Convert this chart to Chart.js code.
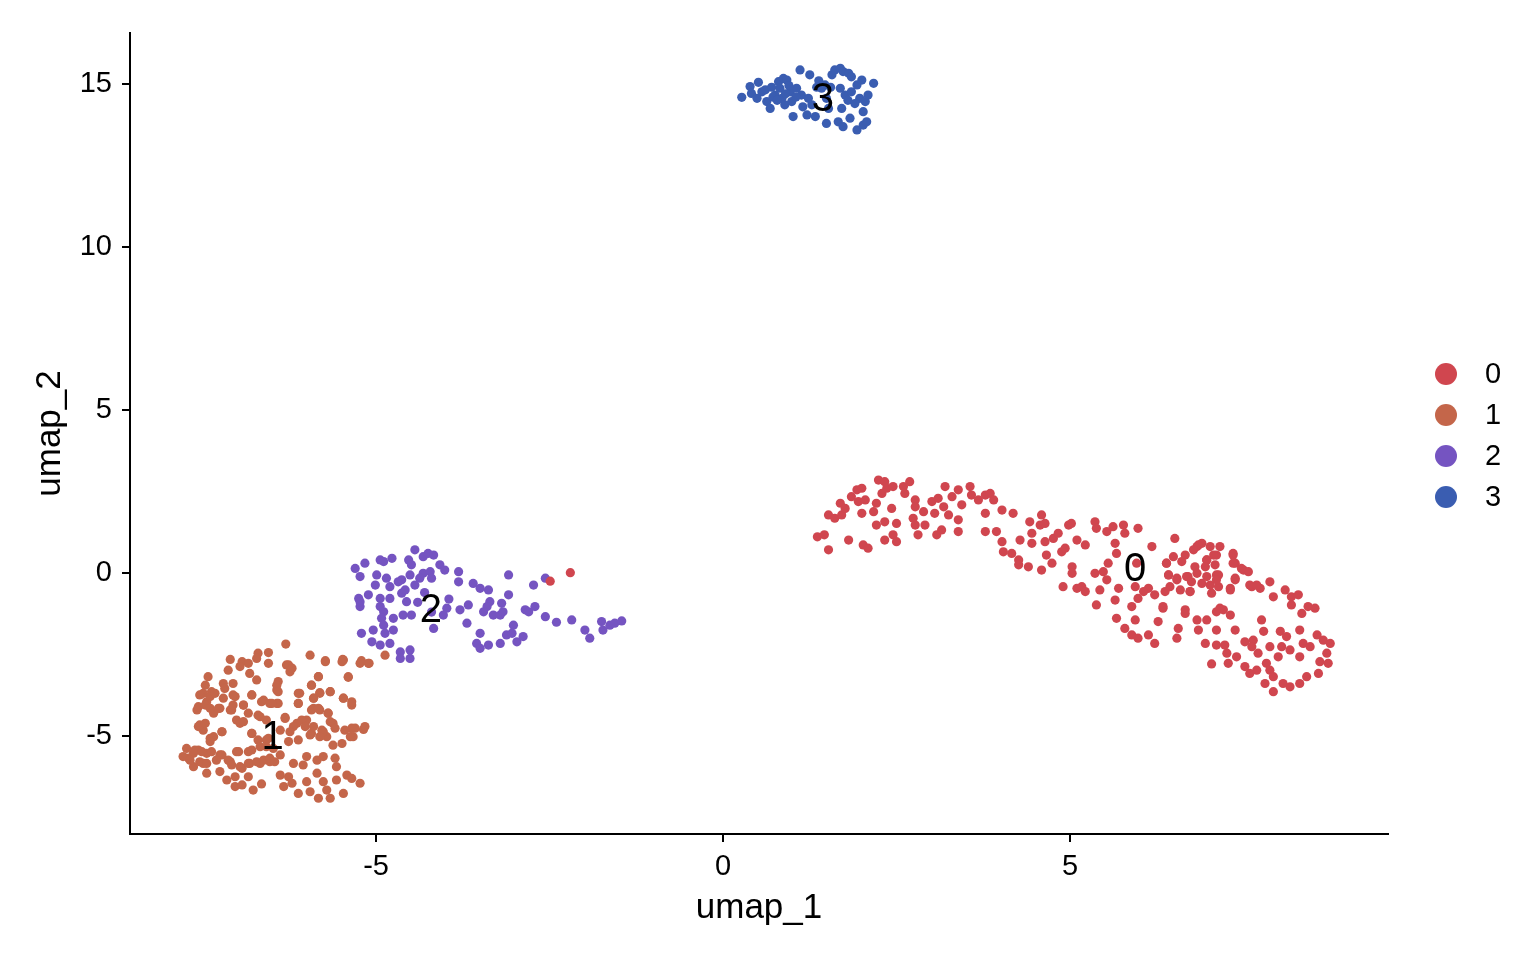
<!DOCTYPE html>
<html>
<head>
<meta charset="utf-8">
<title>umap clusters</title>
<script src="https://cdn.jsdelivr.net/npm/chart.js@4.4.1/dist/chart.umd.min.js"></script>
<style>
    html, body { margin: 0; padding: 0; background: #ffffff; }
    #umap { display: block; }
</style>
</head>
<body>
<canvas id="umap" width="1536" height="960"></canvas>
<script>
// cluster ids and colours
const clusterNames = ["0", "1", "2", "3"];
const clusterColors = ["#D0464F", "#C4664A", "#7554C1", "#3A5DB1"];

// tick values
const xTicks = [-5, 0, 5];
const yTicks = [-5, 0, 5, 10, 15];

// cluster label positions (umap_1, umap_2)
const labelX = [5.94, -6.49, -4.21, 1.44];
const labelY = [0.10, -5.06, -1.16, 14.52];

// [umap_1, umap_2] per cell
const cluster0 = [
    [1.36,1.11],[1.46,1.17],[1.52,0.71],[1.52,1.78],[1.61,1.68],[1.69,2.14],[1.71,1.78],[1.76,1.98],[1.81,1.01],[1.85,2.34],
    [1.93,2.55],[2.00,2.60],[1.95,2.19],[2.05,2.24],[2.00,1.83],[2.02,0.86],[2.09,0.76],[2.17,1.88],[2.21,2.14],[2.21,1.47],
    [2.24,2.85],[2.33,2.80],[2.29,2.44],[2.36,2.60],[2.45,2.65],[2.33,1.57],[2.33,1.01],[2.43,1.98],[2.45,1.17],[2.50,1.52],
    [2.50,0.96],[2.60,2.65],[2.62,2.44],[2.69,2.80],[2.77,2.24],[2.77,2.03],[2.74,1.68],[2.77,1.47],[2.81,1.17],[2.89,1.88],
    [2.91,1.47],[3.01,2.19],[3.05,1.83],[3.08,1.17],[3.15,1.32],[3.10,2.29],[3.20,2.65],[3.18,2.03],[3.25,1.78],[3.30,2.34],
    [3.39,2.55],[3.44,2.09],[3.39,1.63],[3.39,1.27],[3.56,2.65],[3.58,2.39],[3.68,2.24],[3.78,2.39],[3.85,2.44],[3.90,2.24],
    [3.78,1.83],[3.78,1.27],[3.94,1.27],[4.02,1.93],[4.02,0.96],[4.04,0.65],[4.18,1.83],[4.16,0.60],[4.26,0.40],[4.28,1.01],
    [4.26,0.25],[4.40,0.19],[4.42,1.57],[4.45,1.22],[4.45,0.91],[4.57,1.47],[4.59,1.78],[4.64,1.52],[4.59,0.09],[4.64,0.96],
    [4.66,0.55],[4.74,0.30],[4.76,1.06],[4.83,1.22],[4.88,0.65],[4.93,0.76],[4.98,1.47],[4.90,-0.42],[5.03,0.19],[5.03,-0.01],
    [5.10,1.01],[5.10,-0.47],[5.17,-0.42],
    [5.02,1.52],[5.22,0.86],[5.36,1.57],[5.38,1.37],[5.53,1.27],[5.62,1.42],[5.77,1.47],[5.79,1.22],[5.98,1.37],[5.65,0.91],
    [5.67,0.60],[5.36,-0.01],[5.48,0.04],[5.53,-0.21],[5.55,0.30],[5.96,0.30],[6.18,0.81],[5.22,-0.57],[5.43,-0.52],[5.70,-0.47],
    [5.94,-0.42],[6.13,-0.47],[6.22,-0.67],[6.06,-0.57],[5.38,-0.98],[5.65,-0.83],[5.89,-1.03],[5.98,-0.78],[6.34,-1.08],[5.67,-1.39],
    [5.94,-1.44],[6.27,-1.49],[5.79,-1.70],[5.89,-1.90],[5.98,-2.00],[6.13,-1.90],[6.22,-2.16],[6.51,1.06],[6.49,0.50],[6.66,0.55],
    [6.39,0.30],[6.42,-0.06],[6.54,-0.21],[6.44,-0.42],[6.59,-0.52],[6.70,-0.11],[6.83,0.81],[6.90,0.91],[7.02,0.81],[7.16,0.81],
    [6.80,0.19],[6.83,-0.01],[6.97,0.40],[7.11,0.55],[7.09,0.25],[6.97,-0.11],[7.11,-0.06],[7.14,-0.42],[7.04,-0.62],[6.73,-0.57],
    [7.35,0.60],[7.38,0.30],[7.50,0.09],[7.57,0.04],[7.38,-0.21],[7.31,-0.47],[7.62,-0.42],[7.74,-0.47],[7.88,-0.27],[7.93,-0.73],
    [8.10,-0.52],[8.19,-0.73],[8.29,-0.67],[8.19,-0.98],[8.34,-1.24],[8.43,-1.03],[8.53,-1.08],[6.66,-1.24],[6.83,-1.44],[6.97,-1.44],
    [7.11,-1.19],[7.21,-1.13],[7.31,-1.29],[6.85,-1.75],[7.11,-1.75],[7.11,-2.21],[6.95,-2.16],[6.56,-1.70],[6.54,-2.00],[7.23,-2.21],
    [7.38,-1.75],[7.52,-2.11],[7.64,-2.06],[7.76,-1.44],[7.79,-1.79],[7.26,-2.46],[7.40,-2.57],[7.28,-2.77],[7.04,-2.79],[7.62,-2.26],
    [7.71,-2.46],[7.88,-2.26],[8.00,-2.57],[7.83,-2.77],[8.03,-1.79],[8.12,-1.95],[8.05,-2.26],[8.17,-2.36],[8.31,-1.75],[8.36,-2.16],
    [8.46,-2.26],[8.56,-1.90],[8.65,-2.06],[8.75,-2.16],[8.70,-2.46],[8.60,-2.72],[8.58,-3.08],[8.31,-2.57],[8.41,-3.18],[8.31,-3.39],
    [8.17,-3.49],[8.07,-3.39],[7.93,-3.64],[7.81,-3.39],[7.69,-2.98],[7.59,-3.08],[7.52,-2.87],[7.88,-2.98],[7.93,-3.18],[8.72,-2.77],
    [6.85,0.86],[7.07,0.55],[6.97,0.40],[6.78,0.71],[6.61,0.35],[6.39,0.30],[6.95,0.19],[7.35,0.55],[7.35,0.30],[7.47,0.14],
    [6.42,-0.06],[6.54,-0.16],[6.68,-0.11],[6.75,-0.27],[6.90,-0.32],[7.02,-0.37],[7.14,-0.06],[7.11,-0.21],[7.38,-0.16],[7.31,-0.52],
    [6.73,-0.57],[6.37,-0.57],[7.59,-0.37],[7.69,-0.37],[7.16,-1.08],[6.66,-1.13],[6.34,-1.03],
    [-2.49,-0.25],[-2.20,0.01]
];

const cluster1 = [
    [-6.30,-2.18],[-6.70,-2.46],[-6.55,-2.44],[-7.10,-2.65],[-6.93,-2.72],[-6.84,-2.77],[-6.55,-2.77],[-6.72,-2.62],[-7.13,-2.98],[-6.96,-2.87],
    [-6.82,-3.08],[-6.29,-2.82],[-6.24,-3.03],[-5.95,-2.52],[-5.73,-2.69],[-5.48,-2.65],[-5.21,-2.69],[-5.10,-2.77],[-7.42,-3.18],[-7.20,-3.39],
    [-7.06,-3.39],[-6.72,-3.28],[-6.41,-3.33],[-6.43,-3.59],[-5.93,-3.44],[-5.83,-3.18],[-5.40,-3.20],[-7.46,-3.44],[-7.49,-3.69],[-7.37,-3.64],
    [-7.18,-3.54],[-7.03,-3.79],[-6.79,-3.74],[-6.62,-3.90],[-6.53,-4.00],[-6.41,-4.00],[-6.12,-3.69],[-6.12,-4.00],[-5.90,-3.84],[-5.81,-3.67],
    [-5.66,-3.64],[-5.47,-3.84],[-5.35,-4.05],[-7.58,-4.20],[-7.44,-3.95],[-7.34,-4.30],[-7.25,-4.15],[-7.08,-4.20],[-6.91,-4.05],[-6.84,-4.30],
    [-6.70,-4.36],[-6.58,-4.51],[-6.31,-4.43],[-6.14,-4.61],[-6.00,-4.51],[-5.90,-4.15],[-5.81,-4.20],[-5.69,-4.30],[-5.62,-4.61],[-5.35,-4.76],
    [-5.18,-4.80],[-7.56,-4.71],[-7.49,-4.82],[-7.39,-5.07],[-7.22,-4.87],[-7.01,-4.51],[-6.96,-4.61],[-6.79,-4.92],[-6.70,-5.12],[-6.55,-5.07],
    [-6.38,-4.82],[-6.26,-5.17],[-6.12,-5.12],[-5.93,-4.92],[-5.78,-4.82],[-5.71,-5.02],[-5.62,-5.28],[-5.49,-5.23],[-5.33,-5.02],[-7.73,-5.38],
    [-7.63,-5.53],[-7.56,-5.43],[-7.44,-5.53],[-7.25,-5.58],[-7.10,-5.79],[-6.98,-5.48],[-6.84,-5.48],[-6.82,-5.84],[-6.67,-5.84],[-6.53,-5.79],
    [-6.38,-5.58],[-6.19,-5.84],[-6.05,-5.89],[-6.00,-5.63],[-5.85,-5.74],[-5.76,-5.63],[-5.59,-5.68],[-5.57,-5.94],[-7.70,-5.68],[-7.63,-5.94],
    [-7.49,-5.84],[-7.44,-6.14],[-7.25,-6.09],[-7.15,-6.35],[-7.03,-6.25],[-6.93,-5.99],[-6.84,-6.25],[-7.03,-6.55],[-6.93,-6.50],[-6.77,-6.66],
    [-6.65,-6.47],[-6.38,-6.20],[-6.26,-6.25],[-6.33,-6.55],[-6.21,-6.45],[-6.12,-6.76],[-6.00,-6.40],[-5.95,-6.71],[-5.85,-6.14],[-5.76,-6.40],
    [-5.71,-6.66],[-5.83,-6.91],[-5.66,-6.91],[-5.47,-6.76],[-5.42,-6.20],[-5.35,-6.30],[-5.23,-6.45],[-5.57,-6.35],
    [-7.54,-3.74],[-7.39,-3.79],[-7.32,-3.69],[-7.20,-3.84],[-7.06,-3.74],[-6.79,-3.74],[-6.65,-3.95],[-6.43,-4.00],[-7.56,-4.10],[-7.46,-4.05],
    [-7.39,-4.15],[-7.27,-4.15],[-7.10,-4.20],[-7.06,-4.05],[-6.91,-4.05],[-6.91,-4.56],[-6.67,-4.41],[-7.54,-4.66],[-7.46,-4.61],[-7.22,-4.87],
    [-7.34,-5.02],[-7.39,-5.17],[-6.79,-4.92],[-6.58,-5.12],[-7.61,-5.43],[-7.51,-5.48],[-7.37,-5.48],[-7.22,-5.58],[-7.01,-5.48],[-6.79,-5.43],
    [-6.67,-5.33],[-6.58,-5.33],[-6.48,-5.38],[-7.78,-5.63],[-7.68,-5.74],[-7.54,-5.79],[-7.44,-5.84],[-7.30,-5.74],[-7.13,-5.74],[-7.08,-5.89],
    [-6.96,-5.94],[-6.84,-5.84],[-6.72,-5.79],[-6.62,-5.74],[-6.53,-5.68],[-6.46,-5.79],
    [-6.26,-2.82],[-6.21,-2.92],[-5.73,-2.72],[-5.49,-2.72],[-5.23,-2.77],[-5.83,-3.18],[-5.40,-3.18],[-6.43,-3.44],[-6.41,-3.64],[-5.93,-3.44],
    [-6.10,-3.69],[-5.81,-3.69],[-5.66,-3.64],[-5.90,-3.84],[-5.47,-3.84],[-5.35,-3.95],[-6.12,-4.00],[-6.50,-4.00],[-5.93,-4.20],[-5.83,-4.15],
    [-5.69,-4.30],[-5.66,-4.56],[-5.59,-4.76],[-6.31,-4.46],[-6.07,-4.51],[-6.02,-4.71],[-6.19,-4.71],[-6.24,-4.87],[-5.90,-4.71],[-5.76,-4.87],
    [-5.45,-4.82],[-5.30,-4.76],[-5.16,-4.71],[-5.37,-5.02],[-5.95,-4.97],[-5.81,-5.02],
    [-5.47,-2.67],[-5.11,-2.77],[-4.87,-2.52]
];

const cluster2 = [
    [-5.30,0.14],[-5.16,0.30],[-5.23,-0.11],[-4.99,-0.06],[-4.94,0.40],[-4.89,0.35],[-4.77,0.45],[-4.85,-0.16],[-5.01,-0.37],[-4.80,-0.42],
    [-4.68,-0.27],[-4.63,-0.21],[-4.51,-0.06],[-4.53,0.40],[-4.49,0.25],[-4.44,0.71],[-4.32,0.50],[-4.25,0.60],[-4.17,0.55],[-4.32,-0.01],
    [-4.22,0.04],[-4.20,-0.16],[-4.37,-0.16],[-4.44,-0.37],[-4.08,0.25],[-4.01,0.09],[-3.81,0.04],[-3.81,-0.27],[-3.60,-0.32],[-3.50,-0.47],
    [-3.38,-0.52],[-3.09,-0.06],[-3.09,-0.67],[-3.19,-0.93],[-3.36,-0.88],[-3.40,-1.03],[-3.45,-1.19],[-3.31,-1.29],[-3.21,-1.29],[-3.17,-1.19],
    [-3.67,-0.98],[-3.79,-1.13],[-3.98,-1.08],[-4.03,-1.29],[-3.69,-1.54],[-3.50,-1.85],[-3.55,-2.16],[-3.50,-2.31],[-3.38,-2.21],[-3.21,-2.16],
    [-3.12,-1.90],[-3.02,-1.60],[-3.04,-1.85],[-2.97,-2.11],[-2.88,-1.95],[-2.85,-1.13],[-2.80,-1.19],[-2.71,-1.03],[-2.73,-0.37],[-2.56,-0.16],
    [-2.56,-1.34],[-2.40,-1.51],[-2.18,-1.44],[-1.99,-1.75],[-1.92,-2.00],[-1.75,-1.49],[-1.73,-1.75],[-1.63,-1.60],[-1.56,-1.54],[-1.46,-1.47],
    [-5.25,-0.78],[-5.23,-1.03],[-5.11,-0.67],[-4.94,-0.78],[-4.80,-0.78],[-4.89,-1.19],[-4.92,-1.39],[-4.75,-1.39],[-4.61,-1.29],[-4.56,-0.88],
    [-4.49,-1.29],[-4.63,-0.62],[-4.58,-0.52],[-4.94,-1.03],[-4.89,-1.60],[-4.87,-1.85],[-4.75,-1.75],[-5.04,-1.75],[-5.21,-1.85],[-5.06,-2.11],
    [-4.94,-2.21],[-4.80,-2.16],[-4.65,-2.42],[-4.51,-2.36],[-4.65,-2.62],[-4.51,-2.62],[-4.17,-1.70],[-5.23,-0.88],[-4.30,-0.60],[-4.20,-1.20],
    [-3.95,-0.80],[-4.40,-0.90]
];

const cluster3 = [
    [0.27,14.59],[0.39,14.92],[0.51,15.05],[0.41,14.71],[0.49,14.56],[0.56,14.76],[0.63,14.46],[0.68,14.25],[0.61,14.82],[0.75,14.66],
    [0.80,15.07],[0.82,14.87],[0.87,15.17],[0.92,15.12],[0.85,14.56],[0.89,14.36],[0.97,14.76],[0.99,14.46],[1.01,14.00],[1.06,14.87],
    [1.11,15.43],[1.13,14.66],[1.21,14.05],[1.25,15.28],[1.28,14.36],[1.33,14.00],[1.23,14.56],[1.47,14.97],[1.49,14.56],[1.52,14.25],
    [1.49,13.79],[1.57,15.28],[1.61,15.43],[1.69,15.48],[1.73,15.38],[1.81,15.33],[1.85,15.22],[1.69,14.87],[1.76,14.66],[1.71,14.25],
    [1.85,14.76],[1.93,14.97],[2.00,15.12],[1.97,14.56],[2.05,14.46],[2.09,14.66],[2.17,15.02],[2.02,14.15],[1.66,13.84],[1.73,13.69],
    [1.83,13.95],[1.93,13.59],[2.02,13.74],[2.07,13.84],[1.42,14.87],[0.70,14.90],[0.72,14.60],[0.95,14.95],[0.78,14.50],[0.90,14.70],
    [1.05,14.60],[1.15,14.30],[1.35,14.90],[1.38,15.10],[1.55,14.90],[1.90,14.40],[1.80,14.50]
];

const clusters = [cluster0, cluster1, cluster2, cluster3];

const FONT = "'Liberation Sans', Arial, Helvetica, sans-serif";
Chart.defaults.font.family = FONT;
Chart.defaults.color = "#000000";

// cluster number written over each group
const clusterLabels = {
    id: "clusterLabels",
    afterDatasetsDraw(chart) {
        const ctx = chart.ctx;
        const xs = chart.scales.x;
        const ys = chart.scales.y;
        ctx.save();
        ctx.fillStyle = "#000000";
        ctx.font = "40px " + FONT;
        ctx.textAlign = "center";
        ctx.textBaseline = "middle";
        for (let k = 0; k < clusterNames.length; k++) {
            ctx.fillText(clusterNames[k], xs.getPixelForValue(labelX[k]), ys.getPixelForValue(labelY[k]));
        }
        ctx.restore();
    }
};

// legend on the right, dots + names
const sideLegend = {
    id: "sideLegend",
    afterDraw(chart) {
        const ctx = chart.ctx;
        const area = chart.chartArea;
        const cx = area.right + 58;
        const mid = (area.top + area.bottom) / 2 + 2;
        const step = 41;
        ctx.save();
        ctx.font = "29px " + FONT;
        ctx.textAlign = "left";
        ctx.textBaseline = "middle";
        for (let k = 0; k < clusterNames.length; k++) {
            const cy = mid + (k - (clusterNames.length - 1) / 2) * step;
            ctx.beginPath();
            ctx.arc(cx, cy, 11, 0, Math.PI * 2);
            ctx.fillStyle = clusterColors[k];
            ctx.fill();
            ctx.fillStyle = "#000000";
            ctx.fillText(clusterNames[k], cx + 39, cy + 1);
        }
        ctx.restore();
    }
};

const datasets = clusters.map((pts, k) => ({
    label: clusterNames[k],
    data: pts.map(p => ({ x: p[0], y: p[1] })),
    pointBackgroundColor: clusterColors[k],
    pointBorderColor: clusterColors[k],
    pointBorderWidth: 0,
    pointRadius: 4.6,
    pointHoverRadius: 4.6
}));

new Chart(document.getElementById("umap"), {
    type: "scatter",
    data: { datasets: datasets },
    plugins: [clusterLabels, sideLegend],
    options: {
        responsive: false,
        animation: false,
        devicePixelRatio: 1,
        elements: { point: { radius: 4.6, borderWidth: 0 } },
        layout: { padding: { left: 0, right: 148, top: 33, bottom: 0 } },
        plugins: {
            legend: { display: false },
            tooltip: { enabled: false }
        },
        scales: {
            x: {
                type: "linear",
                min: -8.545,
                max: 9.582,
                afterBuildTicks: s => { s.ticks = xTicks.map(v => ({ value: v })); },
                afterFit: s => { s.height = 126; },
                ticks: {
                    font: { size: 29 },
                    color: "#000000",
                    padding: 8,
                    maxRotation: 0,
                    autoSkip: false
                },
                grid: {
                    display: true,
                    drawOnChartArea: false,
                    drawTicks: true,
                    tickLength: 8,
                    color: "#000000",
                    lineWidth: 2
                },
                border: { display: true, color: "#000000", width: 2 },
                title: {
                    display: true,
                    text: "umap_1",
                    font: { size: 35 },
                    color: "#000000",
                    padding: { top: 0, bottom: 31 }
                }
            },
            y: {
                type: "linear",
                min: -8.006,
                max: 16.564,
                afterBuildTicks: s => { s.ticks = yTicks.map(v => ({ value: v })); },
                afterFit: s => { s.width = 130; },
                ticks: {
                    font: { size: 29 },
                    color: "#000000",
                    padding: 10,
                    autoSkip: false
                },
                grid: {
                    display: true,
                    drawOnChartArea: false,
                    drawTicks: true,
                    tickLength: 8,
                    color: "#000000",
                    lineWidth: 2
                },
                border: { display: true, color: "#000000", width: 2 },
                title: {
                    display: true,
                    text: "umap_2",
                    font: { size: 35 },
                    color: "#000000",
                    padding: { top: 29, bottom: 0 }
                }
            }
        }
    }
});
</script>
</body>
</html>
